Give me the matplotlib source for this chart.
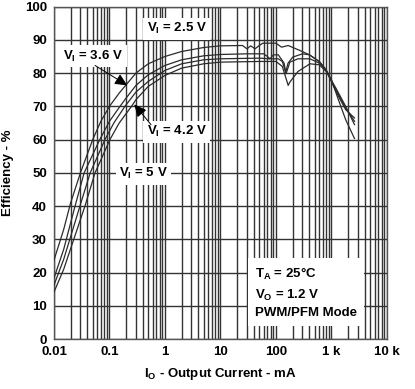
import matplotlib
matplotlib.use("Agg")
import matplotlib.pyplot as plt
from matplotlib.ticker import FixedLocator, NullFormatter

plt.rcParams['font.family'] = ['Liberation Sans', 'DejaVu Sans']
plt.rcParams['font.weight'] = 'bold'
plt.rcParams['mathtext.fontset'] = 'custom'
plt.rcParams['mathtext.rm'] = 'Liberation Sans:bold'
plt.rcParams['mathtext.default'] = 'rm'

# efficiency curves (I in mA, efficiency in %)
i_25 = [0.01, 0.015, 0.02, 0.03, 0.05, 0.07, 0.1, 0.15, 0.2, 0.3, 0.5, 1, 2, 5, 10,
        25, 30, 35, 42, 50, 58, 100, 126, 166, 270, 400, 600, 800, 1000, 1300, 1800, 2600]
eff_25 = [23.7, 33, 41, 50, 60, 65.5, 70, 74, 76.5, 80, 82.8, 85, 86.5, 87.7, 88.2,
          88.3, 87.3, 88.2, 87.3, 88.3, 89.0, 89.0, 87.8, 88.3, 86.8, 85.5, 83.5, 81, 78, 72.5, 66, 60.3]

i_36 = [0.01, 0.015, 0.024, 0.035, 0.067, 0.1, 0.155, 0.2, 0.3, 0.5, 1, 2, 5, 10,
        30, 60, 70, 78, 90, 110, 140, 150, 165, 200, 300, 400, 600, 800, 1200, 1800, 2600]
eff_36 = [18.3, 27, 40, 50, 60, 65.5, 70, 72.5, 76.3, 79.5, 82.3, 84, 85.2, 85.6,
          85.8, 85.8, 85, 84.3, 85.5, 85.5, 83, 80.3, 83, 84.8, 85.8, 85.5, 83.5, 81, 74.5, 69, 66.5]

i_42 = [0.01, 0.015, 0.0294, 0.045, 0.083, 0.12, 0.19, 0.3, 0.5, 1, 2, 5, 10,
        50, 78, 110, 130, 152, 178, 250, 410, 600, 800, 1200, 1800, 2600]
eff_42 = [16.2, 24, 40, 50, 60, 65, 70, 74.3, 77.5, 80.8, 82.8, 84, 84.3,
          84.5, 84.3, 84.3, 83.5, 79.8, 83.3, 84.3, 84.3, 83, 80.8, 75, 69.5, 65.5]

i_5 = [0.01, 0.015, 0.0362, 0.055, 0.102, 0.15, 0.25, 0.3, 0.5, 1, 2, 5, 10,
       50, 100, 130, 166, 178, 250, 410, 600, 800, 1200, 1800, 2600]
eff_5 = [14.1, 21, 40, 50, 60, 65, 70, 72, 76, 79.3, 81.5, 82.8, 83.3,
         83.5, 83.5, 82, 76.3, 77.3, 80.5, 82.8, 82.5, 80.5, 75.5, 70, 64.5]

x_ticks = [0.01, 0.1, 1, 10, 100, 1000, 10000]
x_labels = ["0.01", "0.1", "1", "10", "100", "1 k", "10 k"]
y_ticks = list(range(0, 101, 10))

fig = plt.figure(figsize=(4.15, 3.89), dpi=100)
ax = fig.add_axes([0.130, 0.1285, 0.8025, 0.8545])

line_color = "#2b2b2b"
for xs, ys in [(i_25, eff_25), (i_36, eff_36), (i_42, eff_42), (i_5, eff_5)]:
    ax.plot(xs, ys, color=line_color, linewidth=0.9, zorder=3)

ax.set_xscale("log")
ax.set_xlim(0.01, 10000)
ax.set_ylim(0, 100)

minor = [m * 10.0 ** e for e in range(-2, 4) for m in range(2, 10)]
ax.xaxis.set_major_locator(FixedLocator(x_ticks))
ax.xaxis.set_minor_locator(FixedLocator(minor))
ax.xaxis.set_minor_formatter(NullFormatter())
ax.set_xticks(x_ticks)
ax.set_xticklabels(x_labels)
ax.set_yticks(y_ticks)

ax.grid(True, which="both", axis="x", color="#333333", linewidth=1.0)
ax.grid(True, which="major", axis="y", color="#333333", linewidth=1.0)
ax.tick_params(which="both", length=0, labelsize=9.5, pad=5)
for s in ax.spines.values():
    s.set_color("#555555")
    s.set_linewidth(1.0)

ax.set_ylabel("Efficiency - %", fontsize=9.5, fontweight="bold", labelpad=8)
ax.set_xlabel("I$_\\mathrm{O}$ - Output Current - mA", fontsize=9.5, fontweight="bold", labelpad=6)

box = dict(facecolor="white", edgecolor="none", pad=2.5)
tkw = dict(fontsize=9.5, fontweight="bold", zorder=5, bbox=box)
ax.text(1.62, 93.3, "V$_\\mathrm{I}$ = 2.5 V", ha="center", va="center", **tkw)
ax.text(0.051, 85, "V$_\\mathrm{I}$ = 3.6 V", ha="center", va="center", **tkw)
ax.text(1.62, 62.3, "V$_\\mathrm{I}$ = 4.2 V", ha="center", va="center", **tkw)
ax.text(0.41, 49.7, "V$_\\mathrm{I}$ = 5 V", ha="center", va="center", **tkw)

akw = dict(arrowstyle="-|>,head_length=0.75,head_width=0.35", color="black", lw=0.7,
           shrinkA=0, shrinkB=0)
ax.annotate("", xy=(0.21, 76.3), xytext=(0.055, 82.3), arrowprops=akw, zorder=6)
ax.annotate("", xy=(0.28, 70.6), xytext=(0.56, 64.5), arrowprops=akw, zorder=6)

ax.text(42, 14, "T$_\\mathrm{A}$ = 25°C\nV$_\\mathrm{O}$ = 1.2 V\nPWM/PFM Mode",
        ha="left", va="center", linespacing=1.5,
        bbox=dict(facecolor="white", edgecolor="none", pad=5), fontsize=9.5,
        fontweight="bold", zorder=5)

fig.savefig("out.png", dpi=100)
